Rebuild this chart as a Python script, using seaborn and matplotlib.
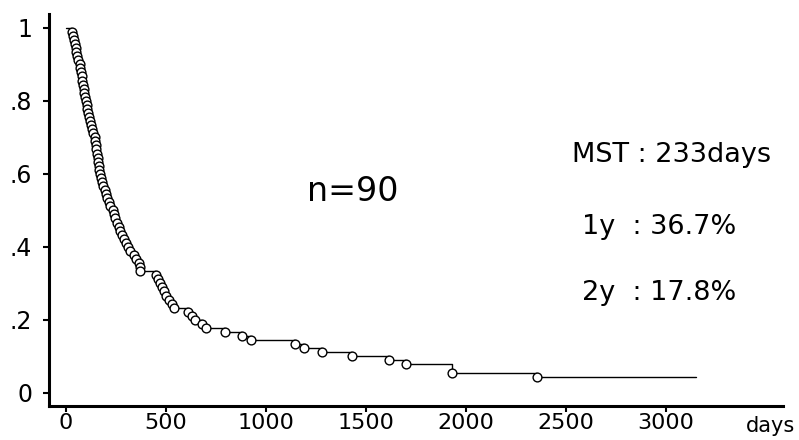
import numpy as np
import pandas as pd
import matplotlib
matplotlib.use("Agg")
import matplotlib.pyplot as plt
import seaborn as sns

# death times (days); 4 patients still alive at the end
death_days = [28, 33, 38, 44, 48, 52, 57, 62, 68,
              72, 75, 79, 82, 85, 88, 92, 95, 99,
              103, 106, 110, 114, 119, 124, 130, 136, 143,
              147, 150, 152, 155, 158, 161, 163, 166, 169,
              174, 180, 186, 193, 200, 207, 214, 222, 233,
              238, 246, 255, 263, 272, 280, 290, 300, 312,
              322, 338, 352, 366, 369, 372,
              448, 458, 468, 478, 490, 502, 515, 528, 542,
              612, 628, 645, 680, 702,
              795, 880, 925, 1145, 1190, 1280, 1430, 1615, 1700, 1930, 1930, 2355]
censored_days = [3150, 3150, 3150, 3150]

x_ticks = [0, 500, 1000, 1500, 2000, 2500, 3000]
y_ticks = [0, 0.2, 0.4, 0.6, 0.8, 1]
y_tick_labels = ["0", ".2", ".4", ".6", ".8", "1"]
stats_lines = ["MST : 233days", "1y  : 36.7%", "2y  : 17.8%"]
n_label = "n=90"

# Kaplan-Meier estimate
times = sorted(set(death_days))
surv = []
s = 1.0
for t in times:
    at_risk = sum(d >= t for d in death_days) + sum(c >= t for c in censored_days)
    s *= 1 - death_days.count(t) / at_risk
    surv.append(s)

line_df = pd.DataFrame({"day": [0] + times + [max(censored_days)],
                        "surv": [1.0] + surv + [surv[-1]]})
events_df = pd.DataFrame({"day": times, "surv": surv})

sns.set_style("ticks")
plt.rcParams["font.family"] = ["DejaVu Sans"]
plt.rcParams["text.color"] = "black"
plt.rcParams["xtick.color"] = "black"
plt.rcParams["ytick.color"] = "black"

fig = plt.figure(figsize=(7.99, 4.40), dpi=100)
ax = fig.add_axes([0.0613, 0.0773, 0.9187, 0.891])

sns.lineplot(data=line_df, x="day", y="surv", drawstyle="steps-post",
             estimator=None, sort=False, color="black", linewidth=1, ax=ax)
sns.scatterplot(data=events_df, x="day", y="surv", s=40, marker="o",
                facecolor="white", edgecolor="black", linewidth=1.0,
                zorder=3, ax=ax)

ax.set_xlim(-85, 3585)
ax.set_ylim(-0.036, 1.038)
ax.set_xticks(x_ticks)
ax.set_yticks(y_ticks)
ax.set_yticklabels(y_tick_labels)
ax.set_xlabel("")
ax.set_ylabel("")
ax.tick_params(axis="both", labelsize=16, width=1.5, length=4,
               color="black", labelcolor="black")
ax.tick_params(axis="y", pad=8, labelsize=17)
ax.tick_params(axis="x", pad=1)
for side in ["top", "right"]:
    ax.spines[side].set_visible(False)
for side in ["left", "bottom"]:
    ax.spines[side].set_linewidth(2.2)
    ax.spines[side].set_color("black")

ax.text(1435, 0.551, n_label, fontsize=24, ha="center", va="center", color="black")
ax.text(2530, 0.652, stats_lines[0], fontsize=19.5, ha="left", va="center", color="black")
ax.text(2580, 0.455, stats_lines[1], fontsize=19.5, ha="left", va="center", color="black")
ax.text(2580, 0.274, stats_lines[2], fontsize=19.5, ha="left", va="center", color="black")
ax.text(3520, -0.092, "days", fontsize=15, ha="center", va="center",
        color="black", clip_on=False)

fig.savefig("out.png", dpi=100, facecolor="white")
